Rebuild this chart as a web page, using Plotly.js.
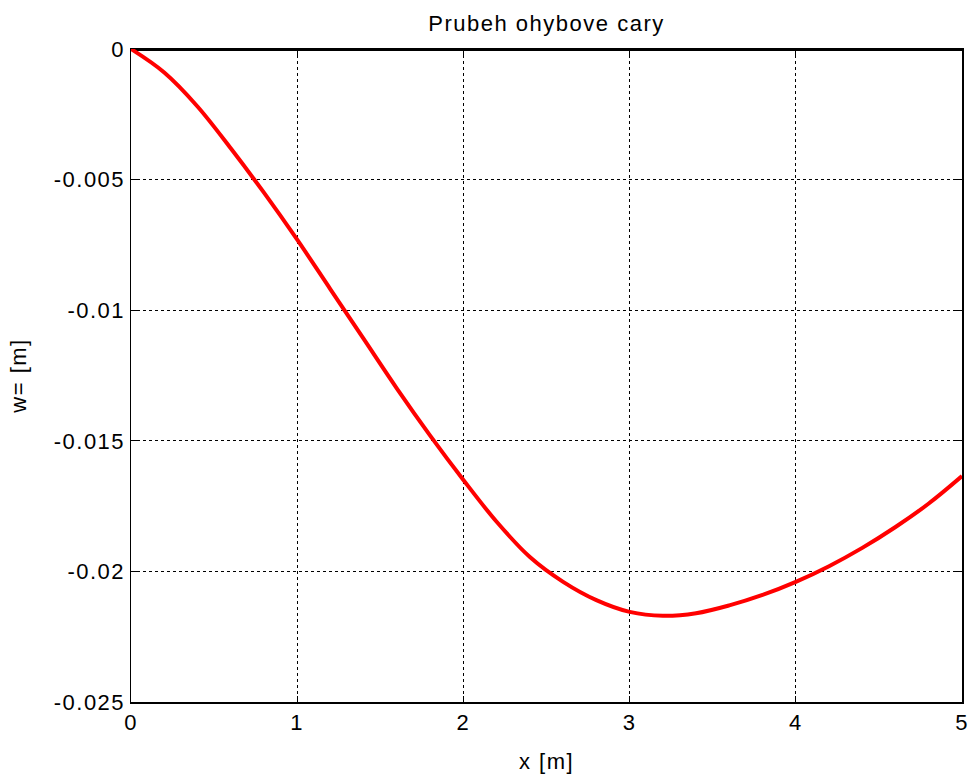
<!DOCTYPE html>
<html>
<head>
<meta charset="utf-8">
<script src="https://cdn.plot.ly/plotly-3.0.1.min.js"></script>
<style>
html,body{margin:0;padding:0;background:#fff;}
#chart{width:973px;height:776px;}
svg text{letter-spacing:1.5px;}
</style>
</head>
<body>
<div id="chart"></div>
<script>
// deflection curve data
var xValues = [0, 0.2, 0.4, 0.6, 0.8, 1.0, 1.2, 1.4, 1.6, 1.8, 2.0, 2.2, 2.4, 2.6, 2.8, 3.0, 3.2, 3.4, 3.6, 3.8, 4.0, 4.2, 4.4, 4.6, 4.8, 5.0];
var wValues = [0, -0.0009, -0.0022, -0.0038, -0.0055, -0.0073, -0.0092, -0.0111, -0.0130, -0.0148, -0.0165, -0.0181, -0.01945, -0.0204, -0.0211, -0.02155, -0.0217, -0.0216, -0.0213, -0.0209, -0.0204, -0.0198, -0.0191, -0.0183, -0.0174, -0.01635];
// beam axis (undeformed)
var beamX = [0, 5];
var beamW = [0, 0];
var xTicks = [0, 1, 2, 3, 4, 5];
var yTicks = [0, -0.005, -0.01, -0.015, -0.02, -0.025];
var yTickLabels = ['0', '-0.005', '-0.01', '-0.015', '-0.02', '-0.025'];

var font = {family: 'Liberation Sans, Arial, sans-serif', size: 22, color: '#000'};

var traces = [
  {x: beamX, y: beamW, mode: 'lines', line: {color: '#000', width: 4}, cliponaxis: false, hoverinfo: 'skip'},
  {x: xValues, y: wValues, mode: 'lines', line: {color: '#ff0000', width: 4, shape: 'spline', smoothing: 1}, cliponaxis: false}
];

var layout = {
  width: 973, height: 776,
  margin: {l: 131, r: 11, t: 49, b: 74},
  paper_bgcolor: '#fff', plot_bgcolor: '#fff',
  showlegend: false,
  font: font,
  title: {text: 'Prubeh ohybove cary', xref: 'paper', x: 0.5, xanchor: 'center', y: 1 - 23/776, yanchor: 'middle', font: {family: font.family, size: 22, color: '#000'}},
  xaxis: {
    range: [0, 5], tickvals: xTicks, ticktext: xTicks.map(String),
    showgrid: true, gridcolor: '#000', griddash: 'dot', gridwidth: 1,
    zeroline: false, showline: true, linecolor: '#000', linewidth: 1.5, mirror: 'ticks',
    ticks: 'inside', ticklen: 6, tickcolor: '#000', tickfont: font,
    title: {text: 'x [m]', font: font, standoff: 19}
  },
  yaxis: {
    range: [-0.025, 0], tickvals: yTicks, ticktext: yTickLabels,
    showgrid: true, gridcolor: '#000', griddash: 'dot', gridwidth: 1,
    zeroline: false, showline: true, linecolor: '#000', linewidth: 1.5, mirror: 'ticks',
    ticks: 'inside', ticklen: 6, tickcolor: '#000', tickfont: font,
    title: {text: 'w= [m]', font: font, standoff: 21}
  }
};

Plotly.newPlot('chart', traces, layout, {displayModeBar: false, staticPlot: true});
</script>
</body>
</html>
